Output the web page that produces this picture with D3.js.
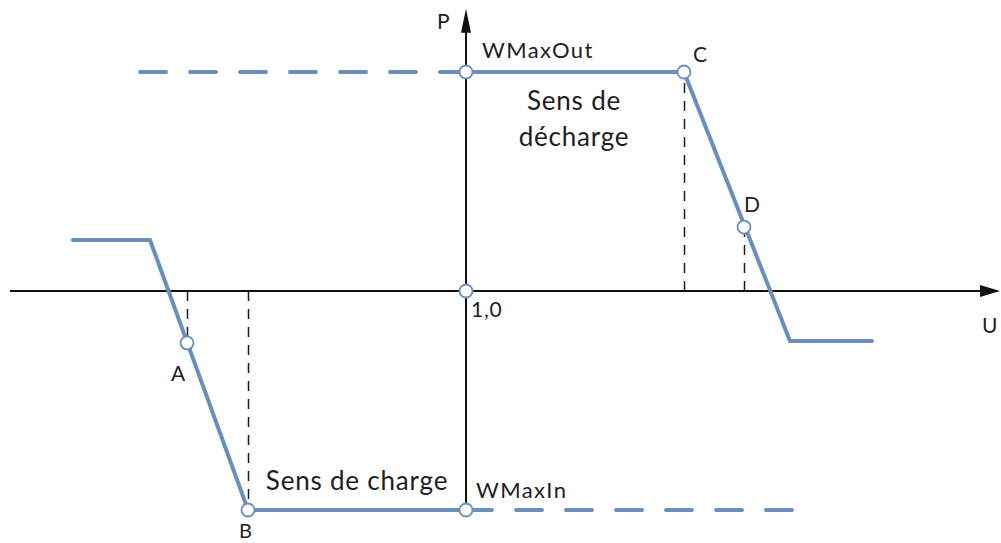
<!DOCTYPE html>
<html>
<head>
<meta charset="utf-8">
<script src="https://cdn.jsdelivr.net/npm/d3@7"></script>
<style>
  body { margin: 0; background: #fff; }
  svg text { font-family: "Lato", "Open Sans", sans-serif; fill: #1e1e1e; }
</style>
</head>
<body>
<svg id="chart" width="1001" height="543"></svg>
<script>
// curve in U (voltage, relative) / P (power, relative to WMax)
const dischargeU = [1.0, 1.218, 1.324, 1.406];
const dischargeP = [1, 1, -0.228, -0.228];
const chargeU = [0.607, 0.684, 0.782, 1.0];
const chargeP = [0.233, 0.233, -1, -1];

// dashed extensions of the limits
const outLimitU = [1.0, 0.672];
const inLimitU = [1.0, 1.327];

// marked points
const pointNames = ["O", "WMaxOut", "WMaxIn", "A", "B", "C", "D"];
const pointU = [1.0, 1.0, 1.0, 0.721, 0.782, 1.218, 1.278];
const pointP = [0, 1, -1, -0.237, -1, 1, 0.292];

// axis extents
const uExtent = [0.544, 1.534];
const pExtent = [-1, 1.28];

let svg = d3.select("#chart");
let blue = "#6b8fbd";

let xScale = d3.scaleLinear().domain([1, 1.5]).range([466, 966]);
let yScale = d3.scaleLinear().domain([-1, 1]).range([510, 72]);

let line = d3.line().x(d => xScale(d[0])).y(d => yScale(d[1]));

// vertical dashed guides (A, B, C, D)
["A", "B", "C", "D"].forEach(function(n) {
    let i = pointNames.indexOf(n);
    let x = Math.round(xScale(pointU[i])) + 0.5;
    svg.append("line")
       .attr("x1", x).attr("x2", x)
       .attr("y1", yScale(0)).attr("y2", yScale(pointP[i]))
       .attr("stroke", "#1e1e1e")
       .attr("stroke-width", 1.5)
       .attr("stroke-dasharray", "10,8");
});

// axes
svg.append("line")
   .attr("x1", xScale(uExtent[0])).attr("x2", xScale(uExtent[1]) - 16)
   .attr("y1", yScale(0)).attr("y2", yScale(0))
   .attr("stroke", "#111").attr("stroke-width", 2);
svg.append("line")
   .attr("x1", xScale(1)).attr("x2", xScale(1))
   .attr("y1", yScale(pExtent[0])).attr("y2", yScale(pExtent[1]) + 16)
   .attr("stroke", "#111").attr("stroke-width", 2);

let xEnd = xScale(uExtent[1]), yTop = yScale(pExtent[1]), y0 = yScale(0), x0 = xScale(1);
svg.append("path")
   .attr("d", `M${xEnd},${y0} L${xEnd - 20},${y0 - 6} L${xEnd - 20},${y0 + 6} Z`)
   .attr("fill", "#111");
svg.append("path")
   .attr("d", `M${x0},${yTop - 2} L${x0 - 5},${yTop + 22} L${x0 + 5},${yTop + 22} Z`)
   .attr("fill", "#111");

// limit extensions
svg.append("path")
   .datum(outLimitU.map(u => [u, 1]))
   .attr("d", line)
   .attr("fill", "none").attr("stroke", blue).attr("stroke-width", 4)
   .attr("stroke-linecap", "round").attr("stroke-dasharray", "26,24");
svg.append("path")
   .datum(inLimitU.map(u => [u, -1]))
   .attr("d", line)
   .attr("fill", "none").attr("stroke", blue).attr("stroke-width", 4)
   .attr("stroke-linecap", "round").attr("stroke-dasharray", "26,24");

// curves
[[dischargeU, dischargeP], [chargeU, chargeP]].forEach(function(c) {
    svg.append("path")
       .datum(c[0].map((u, i) => [u, c[1][i]]))
       .attr("d", line)
       .attr("fill", "none").attr("stroke", blue).attr("stroke-width", 4)
       .attr("stroke-linecap", "round").attr("stroke-linejoin", "round");
});

// markers
svg.selectAll("circle.pt")
   .data(pointNames)
   .enter().append("circle")
   .attr("class", "pt")
   .attr("cx", (d, i) => xScale(pointU[i]))
   .attr("cy", (d, i) => yScale(pointP[i]))
   .attr("r", 6.5)
   .attr("fill", "#fff").attr("stroke", blue).attr("stroke-width", 1.8);

// labels: text, x, y, size, anchor, letter spacing
let labels = [
    ["P", 437, 29, 21, "start", 0],
    ["WMaxOut", 482, 58, 22, "start", 1.4],
    ["C", 693, 62, 21, "start", 0],
    ["D", 744, 212, 21, "start", 0],
    ["1,0", 471, 317, 21, "start", 0.8],
    ["U", 982, 333, 21, "start", 0],
    ["A", 171, 381, 21, "start", 0],
    ["B", 239, 538, 20, "start", 0],
    ["WMaxIn", 476, 498, 22, "start", 1.4],
    ["Sens de", 574, 110, 26, "middle", 0.8],
    ["décharge", 574, 146, 26, "middle", 0.8],
    ["Sens de charge", 357, 490, 26, "middle", 0.8]
];
svg.selectAll("text.lbl")
   .data(labels)
   .enter().append("text")
   .attr("class", "lbl")
   .attr("x", d => d[1]).attr("y", d => d[2])
   .attr("font-size", d => d[3])
   .attr("text-anchor", d => d[4])
   .attr("letter-spacing", d => d[5])
   .text(d => d[0]);
</script>
</body>
</html>
